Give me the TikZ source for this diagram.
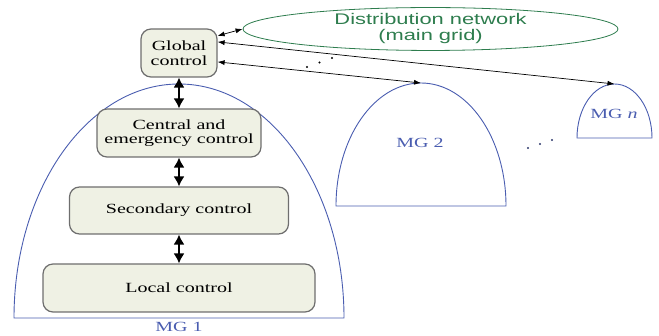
\documentclass[tikz,border=0pt]{standalone}
\usepackage{fontspec}
\setmainfont{Liberation Serif}[FakeStretch=1.43]
\setsansfont{Liberation Sans}[FakeStretch=1.42]
\usetikzlibrary{arrows.meta,shapes.geometric}
\definecolor{boxfill}{HTML}{EFF1E4}
\definecolor{boxline}{HTML}{6E6E6E}
\definecolor{mgblue}{HTML}{4A5DB0}
\definecolor{gridgreen}{HTML}{2E7D4E}

\tikzset{
  ctrl/.style={draw=boxline, fill=boxfill, line width=1.2pt, rounded corners=10pt,
    align=center, inner sep=0pt, font=\fontsize{14}{14.5}\selectfont},
  vlink/.style={{Latex[length=10pt,width=11pt]}-{Latex[length=10pt,width=11pt]}, line width=1.6pt},
  link/.style={{Latex[length=7pt,width=5pt]}-{Latex[length=7pt,width=5pt]}, line width=0.7pt},
  mglabel/.style={text=mgblue, font=\fontsize{14}{14}\selectfont},
  arch/.style={draw=mgblue, line width=0.9pt},
}

\begin{document}
\begin{tikzpicture}[x=1pt,y=1pt]
\useasboundingbox (0,0) rectangle (659,-336);

\draw[arch] (14,-318) arc[start angle=180, end angle=0, x radius=165, y radius=234] -- cycle;
\draw[arch] (336,-206) arc[start angle=180, end angle=0, x radius=85, y radius=123] -- cycle;
\draw[arch] (577,-138) arc[start angle=180, end angle=0, x radius=37.5, y radius=54] -- cycle;
\coordinate (mg1) at (179,-84);
\coordinate (mg2) at (421,-83);
\coordinate (mgn) at (614.5,-84);

\node[mglabel] (mg1lbl) at (179,-327) {MG 1};
\node[mglabel] (mg2lbl) at (420,-143) {MG 2};
\node[mglabel] (mgnlbl) at (614,-114) {MG \textit{n}};

\node[ctrl, minimum width=76pt, minimum height=48pt] (global) at (179,-53) {Global\\control};
\node[ctrl, minimum width=164pt, minimum height=48pt] (central) at (179,-133) {Central and\\emergency control};
\node[ctrl, minimum width=219pt, minimum height=47pt] (secondary) at (179,-210.5) {Secondary control};
\node[ctrl, minimum width=272pt, minimum height=48pt] (local) at (179,-288) {Local control};

\node[ellipse, draw=gridgreen, line width=0.8pt, text=gridgreen, inner sep=0pt,
  minimum width=375pt, minimum height=42pt, align=center,
  font=\sffamily\fontsize{15.4}{16}\selectfont] (dist) at (430.5,-29) {Distribution network\\(main grid)};

\draw[vlink] (global.south) -- (central.north);
\draw[vlink] (central.south) -- (secondary.north);
\draw[vlink] (secondary.south) -- (local.north);

\draw[link] (global.24) -- (dist.west);
\draw[link] (global.16) -- (mgn);
\draw[link] (global.-13) -- (mg2);

\foreach \i in {0,1,2}
  \fill (307+12.5*\i,-67+4.5*\i) circle[radius=1.1pt];
\foreach \i in {0,1,2}
  \fill[mgblue!60!black] (528+12*\i,-148+4*\i) circle[radius=1.1pt];
\end{tikzpicture}
\end{document}
